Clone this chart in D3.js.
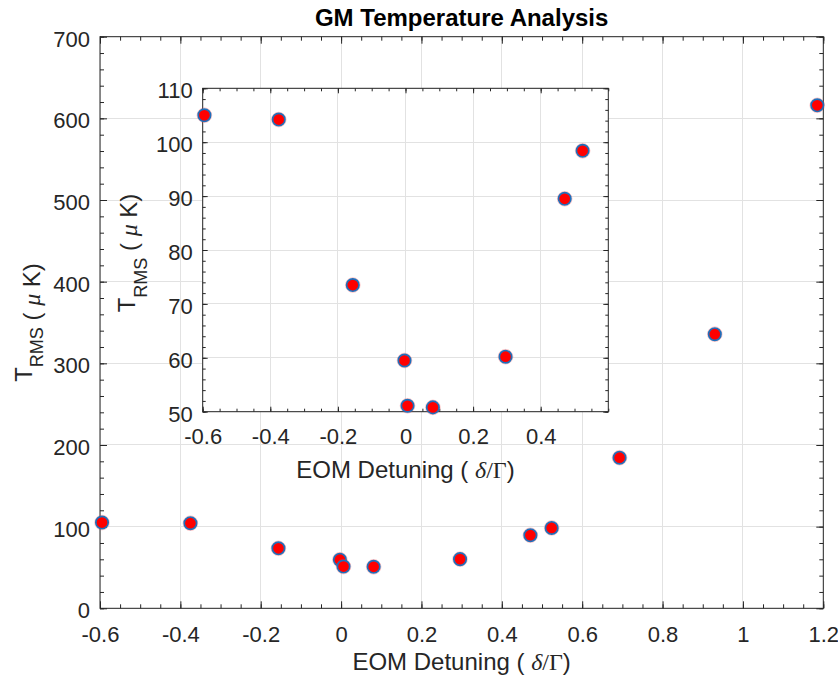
<!DOCTYPE html>
<html>
<head>
<meta charset="utf-8">
<script src="https://cdn.jsdelivr.net/npm/d3@7"></script>
<style>
  html, body { margin: 0; padding: 0; background: #fff; }
  svg text { white-space: pre; }
</style>
</head>
<body>
<svg id="chart" width="838" height="683"></svg>
<script>
// ---- data ----
const detuning    = [-0.595, -0.375, -0.156, -0.003, 0.006, 0.081, 0.296, 0.471, 0.524, 0.693, 0.930, 1.185];
const temperature = [105.0, 104.2, 73.5, 59.5, 51.1, 50.8, 60.2, 89.5, 98.4, 184.4, 335.7, 616.0];

const mainXTicks  = [-0.6, -0.4, -0.2, 0, 0.2, 0.4, 0.6, 0.8, 1.0, 1.2];
const mainYTicks  = [0, 100, 200, 300, 400, 500, 600, 700];
const insetXTicks = [-0.6, -0.4, -0.2, 0, 0.2, 0.4];
const insetYTicks = [50, 60, 70, 80, 90, 100, 110];

const titleText = "GM Temperature Analysis";

// ---- drawing ----
const svg = d3.select("#chart");
const SANS = "'Liberation Sans', Arial, Helvetica, sans-serif";
const SERIF = "'Liberation Serif', 'DejaVu Serif', 'Times New Roman', serif";
const AX = "#262626", GRID = "#e2e2e2";
const points = detuning.map((d, i) => ({x: d, y: temperature[i]}));
const fmt = v => { const s = d3.format("~g")(+v.toFixed(6)); return s.replace("−", "-"); };

function drawAxes(g, o) {
  const x = d3.scaleLinear().domain(o.xDomain).range([o.left, o.right]);
  const y = d3.scaleLinear().domain(o.yDomain).range([o.bottom, o.top]);
  if (o.background) {
    g.append("rect").attr("x", o.left).attr("y", o.top)
      .attr("width", o.right - o.left).attr("height", o.bottom - o.top).attr("fill", "#fff");
  }
  // grid
  g.append("g").selectAll("line").data(o.xTicks).join("line")
    .attr("x1", d => x(d)).attr("x2", d => x(d)).attr("y1", o.top).attr("y2", o.bottom)
    .attr("stroke", GRID).attr("stroke-width", 1).attr("shape-rendering", "crispEdges");
  g.append("g").selectAll("line").data(o.yTicks).join("line")
    .attr("y1", d => y(d)).attr("y2", d => y(d)).attr("x1", o.left).attr("x2", o.right)
    .attr("stroke", GRID).attr("stroke-width", 1).attr("shape-rendering", "crispEdges");

  // axes (bottom/left with labels, top/right ticks only), ticks pointing inward
  const xMinor = d3.range(o.xDomain[0], o.xDomain[1] + 1e-9, o.xMinorStep).map(v => +v.toFixed(6));
  const yMinor = d3.range(o.yDomain[0], o.yDomain[1] + 1e-9, o.yMinorStep).map(v => +v.toFixed(6));

  const mk = (axisFn, scale, vals, len, labels) => {
    const a = axisFn(scale).tickValues(vals).tickSizeInner(-len).tickSizeOuter(0);
    if (labels) a.tickFormat(fmt).tickPadding(0); else a.tickFormat("");
    return a;
  };
  function addAxis(axisFn, scale, transform, majors, minors, withLabels) {
    const gm = g.append("g").attr("transform", transform).call(mk(axisFn, scale, minors, o.minorLen, false));
    gm.select(".domain").remove();
    const ga = g.append("g").attr("transform", transform).call(mk(axisFn, scale, majors, o.majorLen, withLabels));
    ga.select(".domain").remove();
    [gm, ga].forEach(s => s.selectAll("line").attr("stroke", AX).attr("stroke-width", 1));
    return ga;
  }
  const bx = addAxis(d3.axisBottom, x, `translate(0,${o.bottom})`, o.xTicks, xMinor, true);
  bx.selectAll("text").attr("y", 0).attr("dy", o.xTickBaseline)
    .attr("font-family", SANS).attr("font-size", o.tickFont).attr("fill", AX);
  addAxis(d3.axisTop, x, `translate(0,${o.top})`, o.xTicks, xMinor, false);
  const ly = addAxis(d3.axisLeft, y, `translate(${o.left},0)`, o.yTicks, yMinor, true);
  ly.selectAll("text").attr("x", -o.yTickGap).attr("dy", null).attr("y", o.yTickShift)
    .attr("font-family", SANS).attr("font-size", o.tickFont).attr("fill", AX).attr("text-anchor", "end");
  addAxis(d3.axisRight, y, `translate(${o.right},0)`, o.yTicks, yMinor, false);
  g.selectAll(".tick text").attr("font-family", SANS);

  // box
  g.append("rect").attr("x", o.left).attr("y", o.top)
    .attr("width", o.right - o.left).attr("height", o.bottom - o.top)
    .attr("fill", "none").attr("stroke", AX).attr("stroke-width", 1);

  // markers
  const pts = points.filter(p => p.x >= o.xDomain[0] && p.x <= o.xDomain[1] && p.y >= o.yDomain[0] && p.y <= o.yDomain[1]);
  const mg = g.append("g");
  pts.forEach(p => {
    mg.append("circle").attr("cx", x(p.x)).attr("cy", y(p.y)).attr("r", 7.3)
      .attr("fill", "none").attr("stroke", "rgba(255,60,60,0.35)").attr("stroke-width", 0.9);
    mg.append("circle").attr("cx", x(p.x)).attr("cy", y(p.y)).attr("r", 6.2)
      .attr("fill", "#ff0000").attr("stroke", "#1f6fba").attr("stroke-width", 1.7);
  });

  // x label
  const xl = g.append("text").attr("x", (o.left + o.right) / 2).attr("y", o.bottom + o.xLabelBaseline)
    .attr("text-anchor", "middle").attr("font-family", SANS).attr("font-size", o.labelFont).attr("fill", AX);
  xl.append("tspan").text("EOM Detuning ( ");
  xl.append("tspan").attr("font-family", SERIF).attr("font-style", "italic").text("δ");
  xl.append("tspan").attr("font-family", SERIF).text("/Γ");
  xl.append("tspan").text(")");

  // y label
  const yl = g.append("text")
    .attr("transform", `translate(${o.left - o.yLabelOffset},${(o.top + o.bottom) / 2 + o.yLabelShift}) rotate(-90)`)
    .attr("text-anchor", "middle").attr("font-family", SANS).attr("font-size", o.labelFont).attr("fill", AX);
  yl.append("tspan").text("T");
  yl.append("tspan").attr("font-size", o.subFont).attr("dy", o.subDy).text("RMS");
  yl.append("tspan").attr("dy", o.afterSubDy).text(" ( ");
  yl.append("tspan").attr("font-family", SERIF).attr("font-style", "italic").text("μ");
  yl.append("tspan").text(" K)");
}

const main = svg.append("g");
drawAxes(main, {
  left: 100, right: 823.3, top: 36.7, bottom: 608.3,
  xDomain: [-0.6, 1.2], yDomain: [0, 700],
  xTicks: mainXTicks, yTicks: mainYTicks, xMinorStep: 0.05, yMinorStep: 20,
  majorLen: 7, minorLen: 4, tickFont: 22, labelFont: 24, subFont: 18,
  xTickBaseline: 33.5, yTickGap: 10, yTickShift: 9.5, xLabelBaseline: 62,
  yLabelOffset: 68.3, yLabelShift: 0, subDy: 11.6, afterSubDy: -3.3, background: false
});

svg.append("text").attr("x", (100 + 823.3) / 2).attr("y", 26)
  .attr("text-anchor", "middle").attr("font-family", SANS).attr("font-weight", "bold")
  .attr("font-size", 24).attr("fill", "#000").text(titleText);

const inset = svg.append("g");
drawAxes(inset, {
  left: 202.7, right: 608.3, top: 88.3, bottom: 411.7,
  xDomain: [-0.6, 0.6], yDomain: [50, 110],
  xTicks: insetXTicks, yTicks: insetYTicks, xMinorStep: 0.05, yMinorStep: 2,
  majorLen: 5, minorLen: 3, tickFont: 22, labelFont: 24, subFont: 18,
  xTickBaseline: 32, yTickGap: 10, yTickShift: 9.5, xLabelBaseline: 66.6,
  yLabelOffset: 67.7, yLabelShift: 3, subDy: 11.7, afterSubDy: -10, background: true
});
</script>
</body>
</html>
